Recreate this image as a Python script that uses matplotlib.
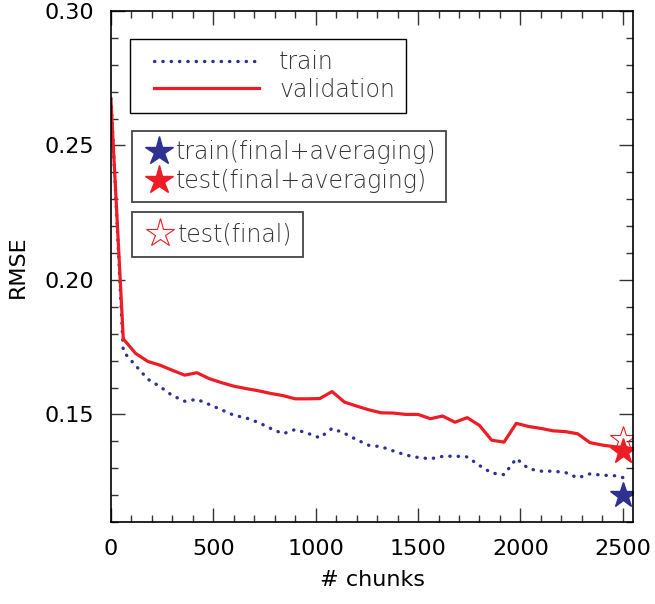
import numpy as np
import matplotlib.pyplot as plt
from matplotlib.ticker import MultipleLocator
from matplotlib.legend_handler import HandlerLine2D

# error curves sampled every 60 chunks
chunks = np.arange(0, 2521, 60)

train_rmse = [0.2675, 0.1734, 0.1682, 0.1631, 0.1603, 0.1570, 0.1549, 0.1556,
              0.1537, 0.1517, 0.1497, 0.1487, 0.1470, 0.1448, 0.1428, 0.1444,
              0.1430, 0.1413, 0.1448, 0.1430, 0.1406, 0.1385, 0.1380, 0.1364,
              0.1349, 0.1340, 0.1335, 0.1344, 0.1345, 0.1342, 0.1310, 0.1282,
              0.1276, 0.1336, 0.1298, 0.1289, 0.1289, 0.1284, 0.1264, 0.1279,
              0.1274, 0.1272, 0.1262]

valid_rmse = [0.2665, 0.1781, 0.1727, 0.1697, 0.1683, 0.1664, 0.1646, 0.1655,
              0.1633, 0.1618, 0.1605, 0.1596, 0.1588, 0.1578, 0.1570, 0.1558,
              0.1558, 0.1559, 0.1585, 0.1546, 0.1531, 0.1517, 0.1506, 0.1505,
              0.1500, 0.1500, 0.1484, 0.1494, 0.1471, 0.1488, 0.1459, 0.1404,
              0.1397, 0.1467, 0.1455, 0.1448, 0.1439, 0.1436, 0.1428, 0.1395,
              0.1386, 0.1380, 0.1376]

final_chunk = 2500
train_final_avg = 0.1200
test_final_avg = 0.1364
test_final = 0.1407

blue = '#2e3192'
red = '#ee1c25'
text_grey = '#333333'

fig = plt.figure(figsize=(6.55, 6.04), dpi=100)
ax = fig.add_axes([111/655, 1 - 522/604, 522/655, 511/604])

l_train, = ax.plot(chunks, train_rmse, color=blue, lw=2.4,
                   linestyle=(0, (0.1, 2.4)), dash_capstyle='round',
                   label='train')
l_valid, = ax.plot(chunks, valid_rmse, color=red, lw=2.3, label='validation')

s_open, = ax.plot([final_chunk], [test_final], ls='none', marker='*', ms=19,
                  mfc='none', mec=red, mew=0.8, label='test(final)')
s_train, = ax.plot([final_chunk], [train_final_avg], ls='none', marker='*',
                   ms=19, color=blue, mec=blue, label='train(final+averaging)')
s_test, = ax.plot([final_chunk], [test_final_avg], ls='none', marker='*',
                  ms=19, color=red, mec=red, label='test(final+averaging)')

ax.set_xlim(0, 2550)
ax.set_ylim(0.11, 0.30)
ax.xaxis.set_major_locator(MultipleLocator(500))
ax.xaxis.set_minor_locator(MultipleLocator(100))
ax.yaxis.set_major_locator(MultipleLocator(0.05))
ax.yaxis.set_minor_locator(MultipleLocator(0.01))
ax.yaxis.set_major_formatter(plt.FormatStrFormatter('%.2f'))
ax.tick_params(which='both', direction='in', top=True, right=True,
               labelsize=16, width=1, color='#333333')
ax.tick_params(which='major', length=10, pad=12)
ax.tick_params(which='minor', length=5)
for sp in ax.spines.values():
    sp.set_linewidth(1.2)

ax.set_xlabel('# chunks', fontsize=16, labelpad=8)
ax.set_ylabel('RMSE', fontsize=16, labelpad=12)

leg_font = {'family': 'DejaVu Sans', 'weight': 'light', 'size': 17}

# line legend, handles pushed in from the frame edge
pad = HandlerLine2D(xpad=0.55)
leg1 = ax.legend(handles=[l_train, l_valid], loc='upper left',
                 bbox_to_anchor=(0.036, 0.945), borderaxespad=0,
                 prop=leg_font, handlelength=5.0, handletextpad=0.85,
                 handler_map={l_train: pad, l_valid: pad},
                 fancybox=False, edgecolor='black', framealpha=1,
                 labelspacing=0.15, borderpad=0.47)
leg1.get_frame().set_linewidth(1.0)
for t in leg1.get_texts():
    t.set_color(text_grey)
ax.add_artist(leg1)

leg2 = ax.legend(handles=[s_train, s_test], loc='upper left',
                 bbox_to_anchor=(0.040, 0.765), borderaxespad=0,
                 prop=leg_font, handlelength=1.5, handletextpad=0.0,
                 markerscale=1.1,
                 fancybox=False, edgecolor='#444444', framealpha=1,
                 labelspacing=0.22, borderpad=0.38)
leg2.get_frame().set_linewidth(1.3)
for t in leg2.get_texts():
    t.set_color(text_grey)
ax.add_artist(leg2)

leg3 = ax.legend(handles=[s_open], loc='upper left',
                 bbox_to_anchor=(0.040, 0.607), borderaxespad=0,
                 prop=leg_font, handlelength=1.5, handletextpad=0.0,
                 markerscale=1.1,
                 fancybox=False, edgecolor='#444444', framealpha=1,
                 borderpad=0.45)
leg3.get_frame().set_linewidth(1.3)
for t in leg3.get_texts():
    t.set_color(text_grey)

fig.savefig('out.png', dpi=100)
